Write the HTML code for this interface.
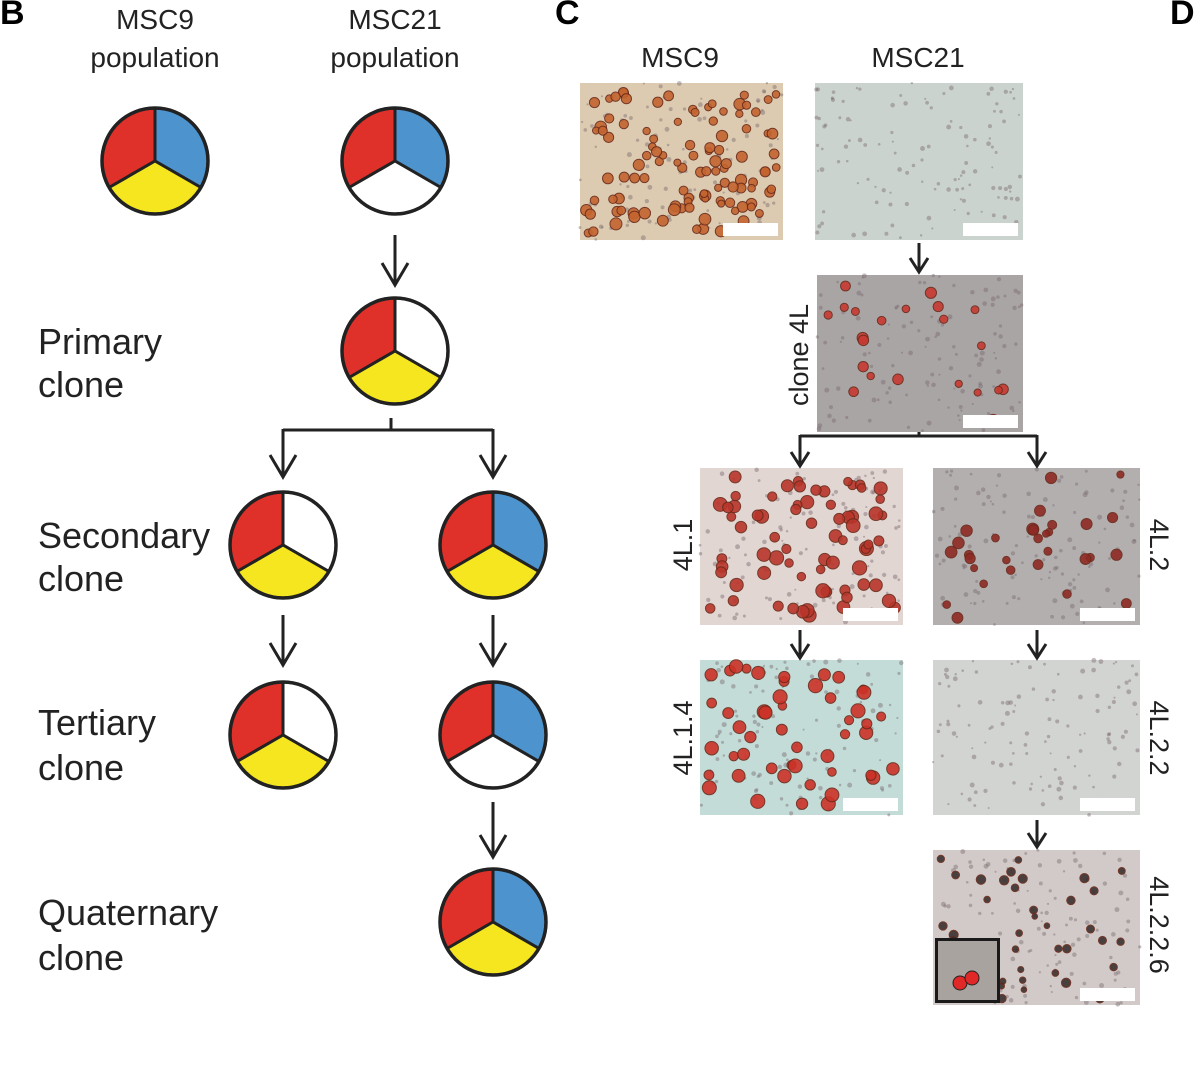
<!DOCTYPE html>
<html><head><meta charset="utf-8"><style>
body{margin:0;background:#fff;}
svg{display:block;font-family:"Liberation Sans",Arial,sans-serif;}
</style></head><body>
<svg id="s" width="1200" height="1083" viewBox="0 0 1200 1083" xmlns="http://www.w3.org/2000/svg">
<text x="0" y="24" font-size="34" font-weight="bold">B</text>
<text x="555" y="24" font-size="34" font-weight="bold">C</text>
<text x="1170" y="24" font-size="34" font-weight="bold">D</text>
<g font-size="28" fill="#222" text-anchor="middle">
<text x="155" y="29">MSC9</text><text x="155" y="67">population</text>
<text x="395" y="29">MSC21</text><text x="395" y="67">population</text>
<text x="680" y="67">MSC9</text><text x="918" y="67">MSC21</text>
</g>
<g font-size="36" fill="#222">
<text x="38" y="354">Primary</text><text x="38" y="397">clone</text>
<text x="38" y="548">Secondary</text><text x="38" y="591">clone</text>
<text x="38" y="735">Tertiary</text><text x="38" y="780">clone</text>
<text x="38" y="925">Quaternary</text><text x="38" y="970">clone</text>
</g>
<g id="pies"></g>
<g stroke="#222" stroke-width="3" fill="none">
<path d="M391,418 V430 M283,430 H493"/>
</g>
<g id="imgs"></g>
<g stroke="#222" stroke-width="3" fill="none">
<path d="M919,432 V436 M800,436 H1037"/>
</g>
<g id="arrows" stroke="#222" stroke-width="3" fill="none"></g>
<g font-size="27" fill="#222" text-anchor="middle">
<text transform="translate(808,355) rotate(-90)">clone 4L</text>
<text transform="translate(692,545) rotate(-90)">4L.1</text>
<text transform="translate(692,738) rotate(-90)">4L.1.4</text>
<text transform="translate(1150,545) rotate(90)">4L.2</text>
<text transform="translate(1150,738) rotate(90)">4L.2.2</text>
<text transform="translate(1150,925) rotate(90)">4L.2.2.6</text>
</g>
</svg>
<script>
var NS="http://www.w3.org/2000/svg";
function el(p,t,a){var e=document.createElementNS(NS,t);for(var k in a)e.setAttribute(k,a[k]);p.appendChild(e);return e;}
var R="#e0302a",B="#4d93cd",Y="#f6e620",W="#fff";
var pies=[[155,161,R,B,Y],[395,161,R,B,W],[395,351,R,W,Y],[283,545,R,W,Y],[493,545,R,B,Y],[283,735,R,W,Y],[493,735,R,B,W],[493,922,R,B,Y]];
var g=document.getElementById("pies");
function pt(cx,cy,r,a){a=(a-90)*Math.PI/180;return [cx+r*Math.cos(a),cy+r*Math.sin(a)];}
pies.forEach(function(p){var cx=p[0],cy=p[1],r=53;
 var segs=[[240,360,p[2]],[0,120,p[3]],[120,240,p[4]]];
 segs.forEach(function(s){var a=pt(cx,cy,r,s[0]),b=pt(cx,cy,r,s[1]);
  el(g,"path",{d:"M"+cx+","+cy+" L"+a[0]+","+a[1]+" A"+r+","+r+" 0 0 1 "+b[0]+","+b[1]+" Z",fill:s[2],stroke:"#222","stroke-width":3,"stroke-linejoin":"round"});});
 el(g,"circle",{cx:cx,cy:cy,r:r,fill:"none",stroke:"#222","stroke-width":3.5});
});
var ag=document.getElementById("arrows");
function arr(x,y1,y2,w,h){el(ag,"path",{d:"M"+x+","+y1+" V"+y2+" M"+(x-w)+","+(y2-h)+" L"+x+","+y2+" L"+(x+w)+","+(y2-h)});}
arr(395,235,285,13,22);arr(283,429,477,13,22);arr(493,429,477,13,22);
arr(283,615,665,13,22);arr(493,615,665,13,22);arr(493,802,857,13,22);
arr(919,243,272,9,14);arr(800,435,466,9,14);arr(1037,435,466,9,14);
arr(800,630,658,9,14);arr(1037,630,658,9,14);arr(1037,820,847,9,14);
var seed=7;function rnd(){seed=(seed*16807)%2147483647;return seed/2147483647;}
var ig=document.getElementById("imgs");
var imgs=[[580,83,203,157,"#dccbb0",110,"#c4652f",5],[815,83,208,157,"#cbd3cf",0,"#b06060",4],
[817,275,206,157,"#a9a5a5",22,"#c83a32",5],[700,468,203,157,"#e2d6d2",70,"#b8352a",6],
[933,468,207,157,"#b3afaf",30,"#8e2a24",5],[700,660,203,155,"#c3dcd8",50,"#cc3228",6],
[933,660,207,155,"#d2d4d1",0,"#b06060",4],[933,850,207,155,"#d2cac8",45,"#3a3030",4]];
imgs.forEach(function(m){var x=m[0],y=m[1],w=m[2],h=m[3];
 el(ig,"rect",{x:x,y:y,width:w,height:h,fill:m[4]});
 for(var i=0;i<120;i++)el(ig,"circle",{cx:x+rnd()*w,cy:y+rnd()*h,r:1+rnd()*1.5,fill:"#7a6a70",opacity:0.45});
 for(var i=0;i<m[5];i++)el(ig,"circle",{cx:x+6+rnd()*(w-12),cy:y+6+rnd()*(h-12),r:m[7]*(0.7+rnd()*0.5),fill:m[6],stroke:"#6a2a1a","stroke-width":1,opacity:0.9});
 el(ig,"rect",{x:x+w-60,y:y+h-17,width:55,height:13,fill:"#fff"});
});
el(ig,"rect",{x:935,y:938,width:65,height:65,fill:"#1a1a1a"});
el(ig,"rect",{x:938,y:941,width:59,height:59,fill:"#a9a39f"});
el(ig,"circle",{cx:960,cy:983,r:7,fill:"#e02828",stroke:"#222"});
el(ig,"circle",{cx:972,cy:978,r:7,fill:"#e02828",stroke:"#222"});
</script>
</body></html>
